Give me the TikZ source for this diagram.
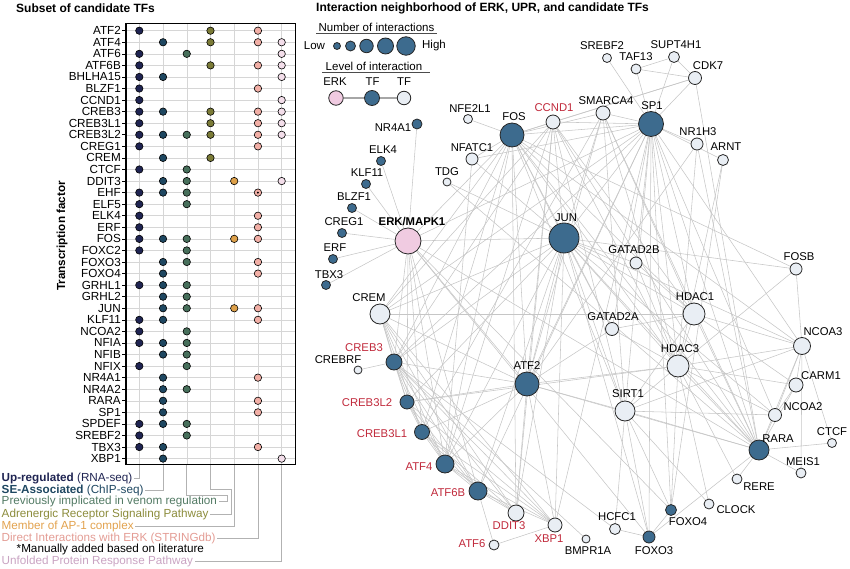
\documentclass[tikz,border=0pt]{standalone}
\usepackage{fontspec}
\setmainfont{Liberation Sans}
\usetikzlibrary{backgrounds}
\definecolor{col1}{HTML}{1F2452}
\definecolor{col2}{HTML}{1E4761}
\definecolor{col3}{HTML}{476F5B}
\definecolor{col4}{HTML}{7B7B37}
\definecolor{col5}{HTML}{DDA049}
\definecolor{col6}{HTML}{F2AFA6}
\definecolor{col7}{HTML}{F3DEEA}
\definecolor{tVen}{HTML}{527A64}
\definecolor{tAdr}{HTML}{8C8C3C}
\definecolor{tAP}{HTML}{E2A24E}
\definecolor{tERK}{HTML}{E39C94}
\definecolor{tUPR}{HTML}{C9A3C2}
\definecolor{nBlue}{HTML}{3D6B8E}
\definecolor{nLight}{HTML}{E9EEF4}
\definecolor{nPink}{HTML}{F0CBE1}
\definecolor{nRed}{HTML}{C0283A}
\definecolor{edgec}{HTML}{C6C6C6}
\begin{document}
\begin{tikzpicture}[x=1pt,y=-1pt,
  every node/.style={inner sep=0pt},
  gridl/.style={draw=black!16, line width=0.5pt},
  dot/.style={circle, draw=black, line width=0.6pt, minimum size=7.4pt},
  rowlbl/.style={anchor=east, font=\fontsize{11.7}{13}\selectfont},
  tickl/.style={draw=black, line width=0.6pt},
  leg/.style={anchor=west, font=\fontsize{11.7}{13}\selectfont},
  lead/.style={draw=black!30, line width=0.8pt},
  ttl/.style={anchor=west, font=\bfseries\fontsize{12}{14}\selectfont},
  nb/.style={circle, draw=black!85, line width=0.8pt, fill=nBlue},
  nl/.style={circle, draw=black!85, line width=0.8pt, fill=nLight},
  np/.style={circle, draw=black!85, line width=0.8pt, fill=nPink},
  lb/.style={font=\fontsize{11.3}{13}\selectfont},
  lr/.style={lb, text=nRed},
  ed/.style={draw=edgec, line width=0.55pt}]
\useasboundingbox (0,0) rectangle (850,569);

% ---------------- Left panel ----------------
\node[ttl] (tleft) at (16,8) {Subset of candidate TFs};
\node[rotate=90, font=\bfseries\fontsize{11.7}{13}\selectfont] (yax) at (62,236) {Transcription factor};

\foreach \c in {1,...,7}
  \draw[gridl] ({139.3+(\c-1)*23.73},23.3) -- ({139.3+(\c-1)*23.73},464.3);
\foreach \i in {0,...,37}
  \draw[gridl] (126,{30.7+\i*11.565}) -- (295.3,{30.7+\i*11.565});

\foreach \nm/\cl [count=\i from 0] in {ATF2/{1,4,6}, ATF4/{2,4,6,7}, ATF6/{1,3,7}, ATF6B/{1,4,6,7}, BHLHA15/{1,2,7}, BLZF1/{1,6}, CCND1/{1,7}, CREB3/{1,2,4,6,7}, CREB3L1/{1,4,6,7}, CREB3L2/{1,2,3,4,6,7}, CREG1/{1,6}, CREM/{2,4}, CTCF/{1,3}, DDIT3/{2,3,5,7}, EHF/{1,2,3,6}, ELF5/{1,3}, ELK4/{1,6}, ERF/{1,6}, FOS/{1,2,3,5,6}, FOXC2/{1,3}, FOXO3/{2,3,6}, FOXO4/{2,6}, GRHL1/{1,2,3}, GRHL2/{2,3}, JUN/{2,3,5,6}, KLF11/{1,2,6}, NCOA2/{1,3}, NFIA/{1,2,3}, NFIB/{2,3}, NFIX/{1,3}, NR4A1/{2,6}, NR4A2/{2,3}, RARA/{2,6}, SP1/{2,6}, SPDEF/{1,2,3}, SREBF2/{1,3}, TBX3/{1,2,6}, XBP1/{2,7}}{
  \pgfmathsetmacro\yy{30.7+\i*11.565}
  \node[rowlbl] (r\i) at (121,\yy) {\nm};
  \draw[tickl] (122.3,\yy) -- (126,\yy);
  \foreach \c in \cl {
    \pgfmathsetmacro\xx{139.3+(\c-1)*23.73}
    \node[dot, fill=col\c] (d\i-\c) at (\xx,\yy) {};
  }
}
\fill[black] (d14-6) circle (1.1pt);
\draw[line width=1.2pt] (126,23.3) rectangle (295.3,464.3);

% legend of left panel
\foreach \c in {1,...,7} \coordinate (c\c) at ({139.3+(\c-1)*23.73},464.9);
\node[leg, text=col1] (lg1) at (1.5,478.3) {\textbf{Up-regulated} (RNA-seq)};
\node[leg, text=col2] (lg2) at (1.5,490) {\textbf{SE-Associated} (ChIP-seq)};
\node[leg, text=tVen] (lg3) at (1.5,501.7) {Previously implicated in venom regulation};
\node[leg, text=tAdr] (lg4) at (1.5,514.3) {Adrenergic Receptor Signaling Pathway};
\node[leg, text=tAP] (lg5) at (1.5,526.5) {Member of AP-1 complex};
\node[leg, text=tERK] (lg6) at (1.5,538.3) {Direct Interactions with ERK (STRINGdb)};
\node[leg, text=black] (lg7) at (16.5,549.6) {*Manually added based on literature};
\node[leg, text=tUPR] (lg8) at (1.5,561.7) {Unfolded Protein Response Pathway};
\draw[lead] ([xshift=1.5pt]lg1.east) -| (c1);
\draw[lead] ([xshift=1.5pt]lg2.east) -| (c2);
\draw[lead] (c3) |- (227.5,495) |- ([xshift=1.5pt]lg3.east);
\draw[lead] (c4) |- (231,489.5) |- ([xshift=1.5pt]lg4.east);
\draw[lead] (c5) |- ([xshift=1.5pt]lg5.east);
\draw[lead] (c6) |- ([xshift=1.5pt]lg6.east);
\draw[lead] (c7) |- ([xshift=1.5pt]lg8.east);

% ---------------- Right panel ----------------
\node[ttl] (tright) at (316,8) {Interaction neighborhood of ERK, UPR, and candidate TFs};

\node[lb, font=\fontsize{11.5}{13}\selectfont] (numint) at (376.5,27) {Number of interactions};
\draw[black!70, line width=0.6pt] (316,33.8) -- (437,33.8);
\node[lb, font=\fontsize{11.5}{13}\selectfont] (low) at (314.5,46) {Low};
\node[nb, minimum size=7pt] (s1) at (337,46) {};
\node[nb, minimum size=10pt] (s2) at (350.5,46) {};
\node[nb, minimum size=13.5pt] (s3) at (366.5,46) {};
\node[nb, minimum size=16pt] (s4) at (385.5,46) {};
\node[nb, minimum size=18.5pt] (s5) at (406,46) {};
\node[lb, font=\fontsize{11.5}{13}\selectfont] (high) at (434,46) {High};
\node[lb, font=\fontsize{11.5}{13}\selectfont] (lvl) at (374,66) {Level of interaction};
\draw[black!70, line width=0.6pt] (322,72.3) -- (430,72.3);
\node[lb] (kerk) at (335,82) {ERK};
\node[lb] (ktf1) at (372.5,82) {TF};
\node[lb] (ktf2) at (404,82) {TF};
\node[np, minimum size=14.5pt] (lerk) at (336,98) {};
\node[nb, minimum size=15pt] (ltf1) at (372,98) {};
\node[nl, minimum size=13.5pt] (ltf2) at (404,98) {};
\begin{pgfonlayer}{background}
\draw[black!35, line width=1.6pt] (lerk) -- (ltf1) -- (ltf2);
\end{pgfonlayer}

% network nodes
\node[np, minimum size=26pt] (ERK) at (408,241) {};
\node[nb, minimum size=10pt] (NR4A1) at (417,124) {};
\node[nb, minimum size=9pt] (ELK4) at (381,161) {};
\node[nb, minimum size=9pt] (KLF11) at (366,184) {};
\node[nb, minimum size=9pt] (BLZF1) at (352,208) {};
\node[nb, minimum size=9pt] (CREG1) at (342,233) {};
\node[nb, minimum size=9pt] (ERF) at (333,259) {};
\node[nb, minimum size=9pt] (TBX3) at (326,285) {};
\node[nl, minimum size=9pt] (NFE2L1) at (468,119) {};
\node[nb, minimum size=24pt] (FOS) at (512,135) {};
\node[nl, minimum size=14pt] (CCND1) at (553,122) {};
\node[nl, minimum size=12pt] (NFATC1) at (472,159) {};
\node[nl, minimum size=8pt] (TDG) at (447,182) {};
\node[nl, minimum size=14pt] (SMARCA4) at (603,113) {};
\node[nb, minimum size=25pt] (SP1) at (651,124) {};
\node[nl, minimum size=9pt] (SREBF2) at (607,58) {};
\node[nl, minimum size=10pt] (TAF13) at (636,69) {};
\node[nl, minimum size=11pt] (SUPT4H1) at (674,57) {};
\node[nl, minimum size=13pt] (CDK7) at (695,78) {};
\node[nl, minimum size=12pt] (NR1H3) at (697,144) {};
\node[nl, minimum size=11pt] (ARNT) at (723,160) {};
\node[nb, minimum size=30pt] (JUN) at (564,238) {};
\node[nl, minimum size=12pt] (GATAD2B) at (636,263) {};
\node[nl, minimum size=12pt] (FOSB) at (796,269) {};
\node[nl, minimum size=22pt] (HDAC1) at (694,314) {};
\node[nl, minimum size=13pt] (GATAD2A) at (612,329) {};
\node[nl, minimum size=22pt] (HDAC3) at (678,366) {};
\node[nl, minimum size=17pt] (NCOA3) at (802,346) {};
\node[nl, minimum size=20pt] (CREM) at (380,314) {};
\node[nb, minimum size=16pt] (CREB3) at (394,362) {};
\node[nl, minimum size=8pt] (CREBRF) at (358,370) {};
\node[nb, minimum size=24pt] (ATF2) at (527,384) {};
\node[nb, minimum size=14pt] (CREB3L2) at (407,402) {};
\node[nb, minimum size=15pt] (CREB3L1) at (422,432) {};
\node[nb, minimum size=18pt] (ATF4) at (445,464) {};
\node[nb, minimum size=18pt] (ATF6B) at (478,491) {};
\node[nl, minimum size=16pt] (DDIT3) at (516,513) {};
\node[nl, minimum size=14pt] (XBP1) at (555,525) {};
\node[nl, minimum size=10pt] (ATF6) at (494,545) {};
\node[nl, minimum size=8pt] (BMPR1A) at (586,539) {};
\node[nl, minimum size=20pt] (SIRT1) at (625,411) {};
\node[nl, minimum size=14pt] (CARM1) at (796,385) {};
\node[nl, minimum size=13pt] (NCOA2) at (775,415) {};
\node[nb, minimum size=20pt] (RARA) at (759,450) {};
\node[nl, minimum size=9pt] (CTCF) at (832,443) {};
\node[nl, minimum size=10pt] (MEIS1) at (801,473) {};
\node[nl, minimum size=10pt] (RERE) at (737,479) {};
\node[nl, minimum size=10pt] (CLOCK) at (709,504) {};
\node[nb, minimum size=11pt] (FOXO4) at (671,510) {};
\node[nl, minimum size=11pt] (HCFC1) at (615,529) {};
\node[nb, minimum size=12pt] (FOXO3) at (649,537) {};

% labels
\node[lb, font=\bfseries\fontsize{11.3}{13}\selectfont] (tERK) at (412,222) {ERK/MAPK1};
\node[lb] (tNR4A1) at (393,128) {NR4A1};
\node[lb] (tELK4) at (383,150) {ELK4};
\node[lb] (tKLF11) at (367,173) {KLF11};
\node[lb] (tBLZF1) at (354,197) {BLZF1};
\node[lb] (tCREG1) at (344,222) {CREG1};
\node[lb] (tERF) at (335,248) {ERF};
\node[lb] (tTBX3) at (329,275) {TBX3};
\node[lb] (tNFE2L1) at (470,109) {NFE2L1};
\node[lb] (tFOS) at (514,117) {FOS};
\node[lr] (tCCND1) at (554,108) {CCND1};
\node[lb] (tNFATC1) at (472,148) {NFATC1};
\node[lb] (tTDG) at (447,172) {TDG};
\node[lb] (tSMARCA4) at (606,101) {SMARCA4};
\node[lb] (tSP1) at (652,106) {SP1};
\node[lb] (tSREBF2) at (602,46) {SREBF2};
\node[lb] (tTAF13) at (636,57) {TAF13};
\node[lb] (tSUPT4H1) at (676,45) {SUPT4H1};
\node[lb] (tCDK7) at (708,66) {CDK7};
\node[lb] (tNR1H3) at (698,132) {NR1H3};
\node[lb] (tARNT) at (726,147) {ARNT};
\node[lb] (tJUN) at (566,218) {JUN};
\node[lb] (tGATAD2B) at (634,250) {GATAD2B};
\node[lb] (tFOSB) at (799,257) {FOSB};
\node[lb] (tHDAC1) at (695,297) {HDAC1};
\node[lb] (tGATAD2A) at (613,317) {GATAD2A};
\node[lb] (tHDAC3) at (680,349) {HDAC3};
\node[lb] (tNCOA3) at (823,332) {NCOA3};
\node[lb] (tCREM) at (369,298) {CREM};
\node[lr] (tCREB3) at (364,348) {CREB3};
\node[lb] (tCREBRF) at (338,360) {CREBRF};
\node[lb] (tATF2) at (527,366) {ATF2};
\node[lr] (tCREB3L2) at (367,403) {CREB3L2};
\node[lr] (tCREB3L1) at (382,434) {CREB3L1};
\node[lr] (tATF4) at (419,467) {ATF4};
\node[lr] (tATF6B) at (448,493) {ATF6B};
\node[lr] (tDDIT3) at (509,526) {DDIT3};
\node[lr] (tXBP1) at (549,539) {XBP1};
\node[lr] (tATF6) at (472,544) {ATF6};
\node[lb] (tBMPR1A) at (588,551) {BMPR1A};
\node[lb] (tSIRT1) at (628,394) {SIRT1};
\node[lb] (tCARM1) at (821,376) {CARM1};
\node[lb] (tNCOA2) at (803,407) {NCOA2};
\node[lb] (tRARA) at (778,439) {RARA};
\node[lb] (tCTCF) at (832,432) {CTCF};
\node[lb] (tMEIS1) at (803,462) {MEIS1};
\node[lb] (tRERE) at (759,487) {RERE};
\node[lb] (tCLOCK) at (736,510) {CLOCK};
\node[lb] (tFOXO4) at (688,522) {FOXO4};
\node[lb] (tHCFC1) at (617,517) {HCFC1};
\node[lb] (tFOXO3) at (654,551) {FOXO3};

\begin{pgfonlayer}{background}
\foreach \a/\b in {ERK/NR4A1, ERK/ELK4, ERK/KLF11, ERK/BLZF1, ERK/CREG1, ERK/ERF, ERK/TBX3, ERK/JUN, ERK/FOS, ERK/SP1, ERK/ATF2, ERK/CREB3, ERK/CREB3L2, ERK/CREB3L1, ERK/ATF4, ERK/ATF6B, ERK/RARA, ERK/FOXO3, ERK/FOXO4,
 NFE2L1/FOS, NFATC1/FOS, NFATC1/JUN, NFATC1/SP1, NFATC1/ATF4, TDG/JUN, TDG/RARA,
 CCND1/FOS, CCND1/SP1, CCND1/JUN, CCND1/ATF2, CCND1/HDAC1, CCND1/HDAC3, CCND1/RARA, CCND1/CDK7, CCND1/CREB3, CCND1/ATF4, CCND1/DDIT3, CCND1/SIRT1, CCND1/CREM,
 SMARCA4/SP1, SMARCA4/FOS, SMARCA4/JUN, SMARCA4/HDAC1, SMARCA4/HDAC3, SMARCA4/RARA, SMARCA4/ATF2, SMARCA4/SIRT1, SMARCA4/CREB3L1,
 SP1/SREBF2, SP1/TAF13, SP1/SUPT4H1, SP1/CDK7, SP1/NR1H3, SP1/ARNT, SP1/FOS, SP1/JUN, SP1/ATF2, SP1/CREM, SP1/CREB3, SP1/HDAC1, SP1/HDAC3, SP1/SIRT1, SP1/RARA, SP1/NCOA3, SP1/FOXO3, SP1/GATAD2A, SP1/GATAD2B, SP1/XBP1, SP1/ATF6B, SP1/FOXO4, SP1/NCOA2,
 TAF13/CDK7, TAF13/SUPT4H1, SUPT4H1/CDK7, CDK7/RARA, CDK7/FOS,
 NR1H3/RARA, NR1H3/HDAC3, NR1H3/ATF2, ARNT/FOXO4, ARNT/HDAC3,
 FOS/JUN, FOS/ATF2, FOS/CREM, FOS/CREB3, FOS/ATF4, FOS/DDIT3, FOS/HDAC1, FOS/SIRT1, FOS/FOSB, FOS/NCOA3, FOS/RARA, FOS/CREB3L1, FOS/HDAC3, FOS/GATAD2A,
 JUN/ATF2, JUN/CREM, JUN/CREB3, JUN/ATF4, JUN/ATF6B, JUN/DDIT3, JUN/XBP1, JUN/GATAD2B, JUN/GATAD2A, JUN/HDAC1, JUN/HDAC3, JUN/FOSB, JUN/SIRT1, JUN/RARA, JUN/NCOA3, JUN/CREB3L2, JUN/NCOA2, JUN/FOXO3,
 ATF2/CREM, ATF2/CREB3, ATF2/CREB3L2, ATF2/ATF4, ATF2/DDIT3, ATF2/XBP1, ATF2/HDAC3, ATF2/RARA, ATF2/SIRT1, ATF2/GATAD2A, ATF2/CREB3L1,
 CREM/CREB3, CREM/CREB3L2, CREM/CREB3L1, CREM/ATF4, CREM/ATF6B, CREM/HDAC1, CREM/DDIT3, CREM/XBP1,
 CREB3/CREB3L2, CREB3/CREB3L1, CREB3/ATF4, CREB3/ATF6B, CREB3/XBP1, CREB3/CREBRF, CREB3/DDIT3, CREB3/BMPR1A, CREB3/HCFC1,
 CREB3L2/CREB3L1, CREB3L2/ATF4, CREB3L2/ATF6B, CREB3L2/XBP1, CREB3L2/HDAC3,
 CREB3L1/ATF4, CREB3L1/ATF6B, CREB3L1/XBP1, CREB3L1/DDIT3,
 ATF4/ATF6B, ATF4/DDIT3, ATF4/XBP1, ATF6B/XBP1, ATF6B/DDIT3, ATF6B/ATF6, ATF6/XBP1,
 HDAC1/GATAD2B, HDAC1/GATAD2A, HDAC1/HDAC3, HDAC1/SIRT1, HDAC1/RARA, HDAC1/NCOA3, HDAC1/CARM1,
 HDAC3/GATAD2A, HDAC3/GATAD2B, HDAC3/NCOA3, HDAC3/NCOA2, HDAC3/RARA, HDAC3/SIRT1, HDAC3/FOXO4, HDAC3/RERE, HDAC3/CLOCK, HDAC3/CARM1,
 FOSB/NCOA3, FOSB/HDAC3,
 NCOA3/CARM1, NCOA3/NCOA2, NCOA3/RARA, NCOA3/CTCF, NCOA3/MEIS1, NCOA3/SIRT1,
 CARM1/RARA, CARM1/NCOA2, NCOA2/RARA, NCOA2/SIRT1,
 RARA/CTCF, RARA/MEIS1, RARA/RERE, RARA/SIRT1, RARA/FOXO3,
 SIRT1/FOXO3, SIRT1/FOXO4, SIRT1/HCFC1, SIRT1/CLOCK, FOXO3/FOXO4, FOXO3/HCFC1}
  \draw[ed] (\a) -- (\b);
\end{pgfonlayer}
\end{tikzpicture}
\end{document}
